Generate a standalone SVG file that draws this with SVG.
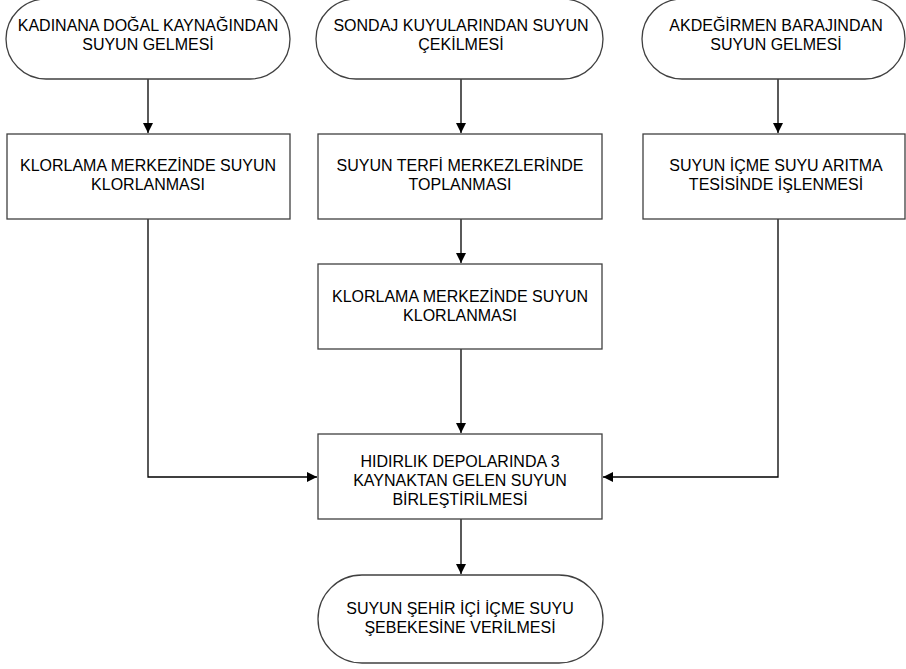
<svg xmlns="http://www.w3.org/2000/svg" width="906" height="669" viewBox="0 0 906 669">
<defs>
<style>
.box{fill:#fff;stroke:#404040;stroke-width:1.3}
.t{font-family:"Liberation Sans",Arial,sans-serif;font-size:16px;fill:#000;text-anchor:middle}
.c{fill:none;stroke:#000;stroke-width:1.3}
</style>
<marker id="ah" viewBox="0 0 10 10" refX="10" refY="5" markerWidth="10" markerHeight="10" markerUnits="userSpaceOnUse" orient="auto">
<path d="M0,0 L10,5 L0,10 Z" fill="#000"/>
</marker>
</defs>
<rect width="906" height="669" fill="#fff"/>
<g id="connectors">
<path class="c" d="M148,79 V133" marker-end="url(#ah)"/>
<path class="c" d="M461,79 V133" marker-end="url(#ah)"/>
<path class="c" d="M778,79 V133" marker-end="url(#ah)"/>
<path class="c" d="M461,219 V263" marker-end="url(#ah)"/>
<path class="c" d="M461,349 V433" marker-end="url(#ah)"/>
<path class="c" d="M148,219 V477 H317" marker-end="url(#ah)"/>
<path class="c" d="M778,219 V477 H603" marker-end="url(#ah)"/>
<path class="c" d="M461,519 V574" marker-end="url(#ah)"/>
</g>
<g id="n1"><rect class="box" x="6" y="-1" width="284" height="80" rx="40"/>
<text class="t" x="148" y="31">KADINANA DOĞAL KAYNAĞINDAN</text><text class="t" x="148" y="50">SUYUN GELMESİ</text></g>
<g id="n2"><rect class="box" x="316" y="-1" width="287" height="80" rx="40"/>
<text class="t" x="461" y="31">SONDAJ KUYULARINDAN SUYUN</text><text class="t" x="461" y="50">ÇEKİLMESİ</text></g>
<g id="n3"><rect class="box" x="642" y="-1" width="263" height="80" rx="40"/>
<text class="t" x="776" y="31">AKDEĞİRMEN BARAJINDAN</text><text class="t" x="776" y="50">SUYUN GELMESİ</text></g>
<g id="n4"><rect class="box" x="7" y="134" width="283" height="85"/>
<text class="t" x="148" y="171">KLORLAMA MERKEZİNDE SUYUN</text><text class="t" x="148" y="190">KLORLANMASI</text></g>
<g id="n5"><rect class="box" x="318" y="134" width="284" height="85"/>
<text class="t" x="460" y="171">SUYUN TERFİ MERKEZLERİNDE</text><text class="t" x="460" y="190">TOPLANMASI</text></g>
<g id="n6"><rect class="box" x="643" y="134" width="262" height="85"/>
<text class="t" x="776" y="171">SUYUN İÇME SUYU ARITMA</text><text class="t" x="776" y="190">TESİSİNDE İŞLENMESİ</text></g>
<g id="n7"><rect class="box" x="318" y="264" width="284" height="85"/>
<text class="t" x="460" y="302">KLORLAMA MERKEZİNDE SUYUN</text><text class="t" x="460" y="321">KLORLANMASI</text></g>
<g id="n8"><rect class="box" x="318" y="434" width="284" height="85"/>
<text class="t" x="460" y="467">HIDIRLIK DEPOLARINDA 3</text><text class="t" x="460" y="486">KAYNAKTAN GELEN SUYUN</text><text class="t" x="460" y="505">BİRLEŞTİRİLMESİ</text></g>
<g id="n9"><rect class="box" x="318" y="575" width="285" height="88" rx="44"/>
<text class="t" x="460" y="614">SUYUN ŞEHİR İÇİ İÇME SUYU</text><text class="t" x="460" y="633">ŞEBEKESİNE VERİLMESİ</text></g>
</svg>
